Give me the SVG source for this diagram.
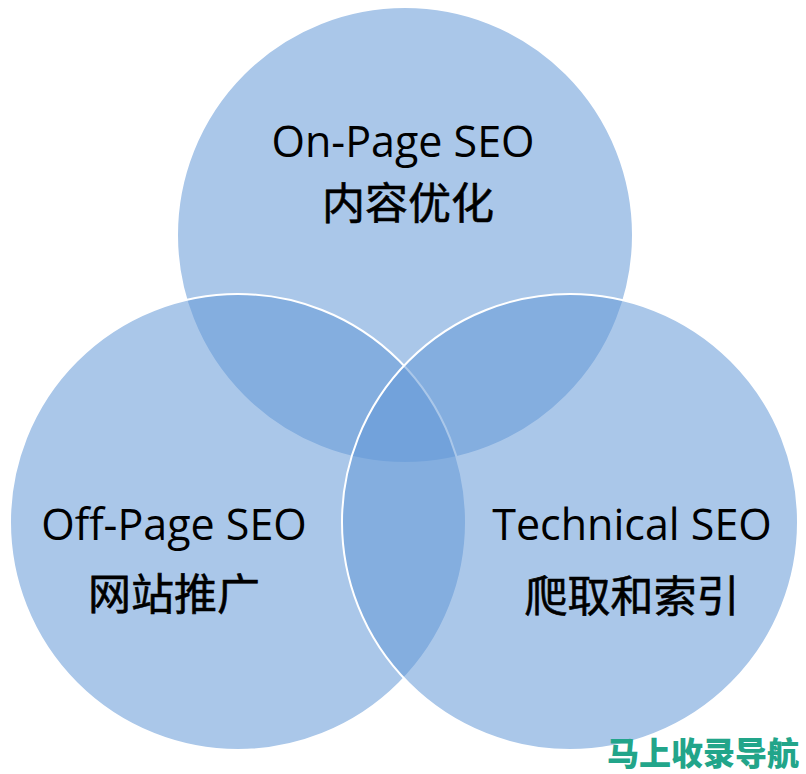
<svg xmlns="http://www.w3.org/2000/svg" width="806" height="774" viewBox="0 0 806 774">
<style>
.c{fill:#6499d7;fill-opacity:0.55;stroke:#ffffff;stroke-width:2}
.en{font-family:"Open Sans","Liberation Sans",sans-serif;font-size:43px;fill:#000;text-anchor:middle}
.zh{font-family:"Noto Sans CJK SC",sans-serif;font-size:43px;font-weight:400;fill:#000;stroke:#000;stroke-width:0.6;text-anchor:middle}
.wm{font-family:"Noto Sans CJK SC",sans-serif;font-size:32px;font-weight:900;fill:#22a58a}
</style>
<rect x="0" y="0" width="806" height="774" fill="#ffffff"/>
<g id="on-page">
<circle class="c" cx="405" cy="235" r="228"/>
<text class="en" x="403" y="157">On-Page SEO</text>
<text class="zh" x="408" y="219">内容优化</text>
</g>
<g id="off-page">
<circle class="c" cx="238" cy="522" r="228"/>
<text class="en" x="174" y="540">Off-Page SEO</text>
<text class="zh" x="174" y="610">网站推广</text>
</g>
<g id="technical">
<circle class="c" cx="570" cy="522" r="228"/>
<text class="en" x="632" y="540">Technical SEO</text>
<text class="zh" x="632" y="612">爬取和索引</text>
</g>
<g id="connectors"></g>
<text class="wm" x="607" y="765">马上收录导航</text>
</svg>
